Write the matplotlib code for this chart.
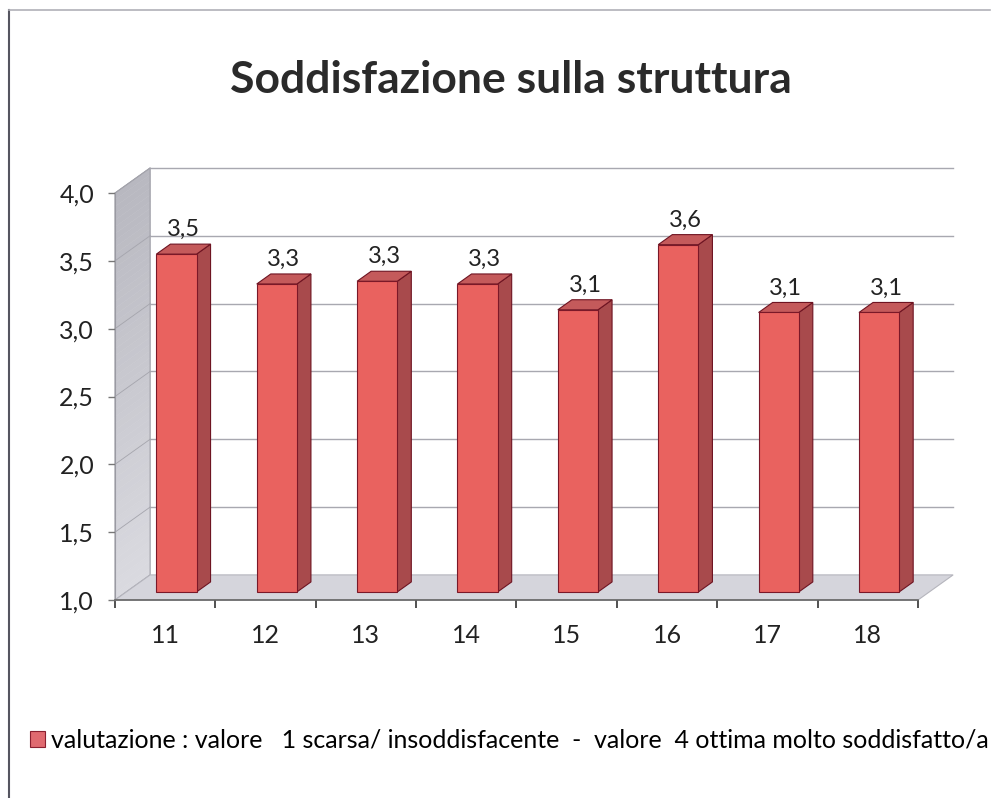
import numpy as np
import matplotlib.pyplot as plt
from matplotlib.patches import Polygon, Patch
from matplotlib.colors import LinearSegmentedColormap

plt.rcParams['font.family'] = ['Lato', 'DejaVu Sans']

# Data
classi = ['11', '12', '13', '14', '15', '16', '17', '18']
valutazioni = [3.49, 3.27, 3.29, 3.27, 3.08, 3.56, 3.06, 3.06]
y_ticks = [1.0, 1.5, 2.0, 2.5, 3.0, 3.5, 4.0]
titolo = 'Soddisfazione sulla struttura'
legenda = 'valutazione : valore   1 scarsa/ insoddisfacente  -  valore  4 ottima molto soddisfatto/a'

# depth offset of the back wall (in data units)
dx, dy = 0.35, 0.185
f0, f1 = 0.32, 0.72       # depth range covered by each bar
bw = 0.40                 # bar width

W, H = 995, 798
fig = plt.figure(figsize=(W / 100, H / 100), dpi=100)
ax = fig.add_axes([115 / W, (H - 600) / H, (918 - 115) / W, (600 - 193) / H])

n = len(classi)
x0, x1 = -0.5, n - 0.5
y0, y1 = 1.0, 4.0

# left side wall: gradient built from thin horizontal bands
cmap = LinearSegmentedColormap.from_list('parete', ['#dadae0', '#b8b8c0'])
edges = np.linspace(y0, y1, 61)
for k in range(60):
    a, b = edges[k], edges[k + 1]
    ax.add_patch(Polygon([(x0, a), (x0, b), (x0 + dx, b + dy), (x0 + dx, a + dy)],
                         closed=True, facecolor=cmap(k / 59), edgecolor=cmap(k / 59),
                         lw=0.3, clip_on=False, zorder=0.5))
ax.add_patch(Polygon([(x0, y0), (x0, y1), (x0 + dx, y1 + dy), (x0 + dx, y0 + dy)],
                     closed=True, facecolor='none', edgecolor='#a0a0a8', lw=0.8,
                     clip_on=False, zorder=1))

# floor
floor = Polygon([(x0, y0), (x1, y0), (x1 + dx, y0 + dy), (x0 + dx, y0 + dy)],
                closed=True, facecolor='#d5d5dc', edgecolor='#b5b5bd', lw=0.8, clip_on=False, zorder=1)
ax.add_patch(floor)

# gridlines on back wall and side wall
for v in y_ticks[1:]:
    ax.plot([x0 + dx, x1 + dx], [v + dy, v + dy], color='#a8a8b0', lw=1.0, clip_on=False, zorder=1)
    ax.plot([x0, x0 + dx], [v, v + dy], color='#a4a4ac', lw=0.6, clip_on=False, zorder=1)

# bars drawn as front, side and top faces
for i, v in enumerate(valutazioni):
    xl = i - bw / 2 + f0 * dx
    xr = xl + bw
    yb = y0 + f0 * dy
    yt = v + f0 * dy
    ddx, ddy = (f1 - f0) * dx, (f1 - f0) * dy
    side = Polygon([(xr, yb), (xr + ddx, yb + ddy), (xr + ddx, yt + ddy), (xr, yt)],
                   facecolor='#a84a4c', edgecolor='#6e1422', lw=0.8, zorder=3, clip_on=False)
    top = Polygon([(xl, yt), (xr, yt), (xr + ddx, yt + ddy), (xl + ddx, yt + ddy)],
                  facecolor='#c45a5b', edgecolor='#6e1422', lw=0.8, zorder=3, clip_on=False)
    ax.add_patch(side)
    ax.add_patch(top)
    ax.bar(xl + bw / 2, v - y0, bottom=yb, width=bw, color='#e9625f', edgecolor='#7a1828',
           lw=0.8, zorder=4, clip_on=False)
    ax.text(i + (f0 + f1) / 2 * dx, v + f1 * dy + 0.03, f'{v:.1f}'.replace('.', ','),
            ha='center', va='bottom', fontsize=17, color='#222222')

ax.set_xlim(x0, x1)
ax.set_ylim(y0, y1)

ax.set_yticks(y_ticks)
ax.set_yticklabels([f'{t:.1f}'.replace('.', ',') for t in y_ticks], fontsize=18, color='#222222')
ax.set_xticks(range(n))
ax.set_xticklabels(classi, fontsize=18, color='#222222')
ax.set_xticks(np.arange(x0, x1 + 0.01, 1), minor=True)
ax.tick_params(axis='x', which='major', length=0, pad=17)
ax.tick_params(axis='x', which='minor', length=6, width=1.2, color='#333333')
ax.tick_params(axis='y', length=5, width=1, color='#777777', pad=10)

for s in ['top', 'right']:
    ax.spines[s].set_visible(False)
ax.spines['left'].set_color('#9a9aa2')
ax.spines['bottom'].set_color('#666666')
ax.spines['bottom'].set_linewidth(1.2)
ax.patch.set_alpha(0)

fig.text(511 / W, 1 - 80 / H, titolo, ha='center', va='center', fontsize=32,
         fontweight='bold', color='#2a2a2a')

fig.legend(handles=[Patch(facecolor='#e06a70', edgecolor='#8a2030', lw=0.8)], labels=[legenda],
           loc='center left', bbox_to_anchor=(30 / W, 1 - 740 / H), frameon=False, fontsize=18,
           handlelength=0.6, handleheight=0.6, handletextpad=0.25, borderpad=0, borderaxespad=0)

# chart frame
fig.add_artist(plt.Line2D([9 / W, 9 / W], [0, 1 - 10 / H], color='#555560', lw=1.5))
fig.add_artist(plt.Line2D([9 / W, 990 / W], [1 - 10 / H, 1 - 10 / H], color='#b0b0b8', lw=1.2))

fig.savefig('out.png', dpi=100)
